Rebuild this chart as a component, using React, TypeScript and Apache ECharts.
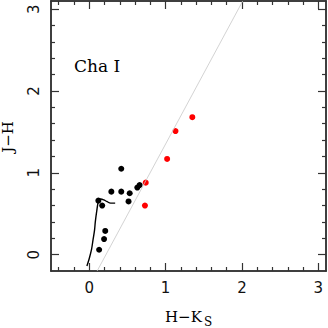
import React, { useEffect, useRef } from "react";
import * as echarts from "echarts";

const xMajor = [0, 1, 2, 3];
const xMinor = [-0.4, -0.2, 0.2, 0.4, 0.6, 0.8, 1.2, 1.4, 1.6, 1.8, 2.2, 2.4, 2.6, 2.8];
const yMajor = [0, 1, 2, 3];
const yMinor = [0.2, 0.4, 0.6, 0.8, 1.2, 1.4, 1.6, 1.8, 2.2, 2.4, 2.6, 2.8];

const locus = [
  [-0.03, -0.14], [0.0, -0.05], [0.03, 0.06], [0.05, 0.18], [0.07, 0.3],
  [0.08, 0.4], [0.1, 0.54], [0.12, 0.65], [0.15, 0.68], [0.19, 0.67],
  [0.23, 0.65], [0.28, 0.63], [0.34, 0.63],
];
const reddening = [[0.104, -0.2], [2.01, 3.1]];

const blackStars = [
  [0.13, 0.06], [0.195, 0.19], [0.21, 0.29], [0.12, 0.66], [0.17, 0.6],
  [0.29, 0.77], [0.42, 1.05], [0.42, 0.77], [0.53, 0.75], [0.515, 0.65],
  [0.63, 0.82], [0.66, 0.85],
];
const redStars = [[0.74, 0.88], [0.73, 0.6], [1.02, 1.17], [1.13, 1.51], [1.35, 1.68]];

const AX = "#333";

function xAxis(pos: "top" | "bottom", ticks: number[], len: number, labels: boolean) {
  return {
    type: "value", position: pos, min: -0.5, max: 3.1,
    axisLine: { show: true, onZero: false, lineStyle: { color: AX, width: 1.5 } },
    axisTick: { show: true, inside: true, length: len, customValues: ticks, lineStyle: { color: AX, width: 1.2 } },
    axisLabel: {
      show: labels, customValues: xMajor, margin: 9, color: "#111",
      fontFamily: "DejaVu Sans", fontSize: 15,
    },
    splitLine: { show: false },
  };
}
function yAxis(pos: "left" | "right", ticks: number[], len: number, labels: boolean) {
  return {
    type: "value", position: pos, min: -0.2, max: 3.1,
    axisLine: { show: true, onZero: false, lineStyle: { color: AX, width: 1.5 } },
    axisTick: { show: true, inside: true, length: len, customValues: ticks, lineStyle: { color: AX, width: 1.2 } },
    axisLabel: {
      show: labels, customValues: yMajor, margin: 10, rotate: 90, color: "#111",
      fontFamily: "DejaVu Sans", fontSize: 15,
    },
    splitLine: { show: false },
  };
}

export default function App() {
  const ref = useRef<HTMLDivElement>(null);
  useEffect(() => {
    const chart = echarts.init(ref.current!, null, { renderer: "svg" });
    chart.setOption({
      animation: false,
      grid: { left: 51, top: 1, width: 275, height: 270, containLabel: false },
      xAxis: [
        xAxis("bottom", xMajor, 8, true),
        xAxis("bottom", xMinor, 4, false),
        xAxis("top", xMajor, 8, false),
        xAxis("top", xMinor, 4, false),
      ],
      yAxis: [
        yAxis("left", yMajor, 8, true),
        yAxis("left", yMinor, 4, false),
        yAxis("right", yMajor, 8, false),
        yAxis("right", yMinor, 4, false),
      ],
      series: [
        {
          type: "line", data: reddening, symbol: "none", clip: true,
          lineStyle: { color: "#c8c8c8", width: 0.8 },
        },
        {
          type: "line", data: locus, symbol: "none", smooth: 0.3,
          lineStyle: { color: "#000", width: 1.4 },
        },
        {
          type: "scatter", data: blackStars, symbol: "circle", symbolSize: 6,
          itemStyle: { color: "#000", opacity: 1 },
        },
        {
          type: "scatter", data: redStars, symbol: "circle", symbolSize: 6,
          itemStyle: { color: "#ff0000", opacity: 1 },
        },
      ],
      graphic: [
        {
          type: "text", left: 74, top: 57,
          style: { text: "Cha I", fontFamily: "DejaVu Serif", fontSize: 17, fill: "#000" },
        },
        {
          type: "text", x: 8, y: 137, rotation: Math.PI / 2,
          style: {
            text: "J\u2212H", fontFamily: "DejaVu Serif", fontSize: 15, fill: "#000",
            align: "center", verticalAlign: "middle",
          },
        },
        {
          type: "text", x: 165, y: 317,
          style: {
            text: "H\u2212K", fontFamily: "DejaVu Serif", fontSize: 15, fill: "#000",
            align: "left", verticalAlign: "middle",
          },
        },
        {
          type: "text", x: 204, y: 322,
          style: {
            text: "S", fontFamily: "DejaVu Serif", fontSize: 12, fill: "#000",
            align: "left", verticalAlign: "middle",
          },
        },
      ],
    });
    return () => chart.dispose();
  }, []);
  return <div ref={ref} style={{ position: "absolute", left: 0, top: 0, width: 328, height: 328 }} />;
}
